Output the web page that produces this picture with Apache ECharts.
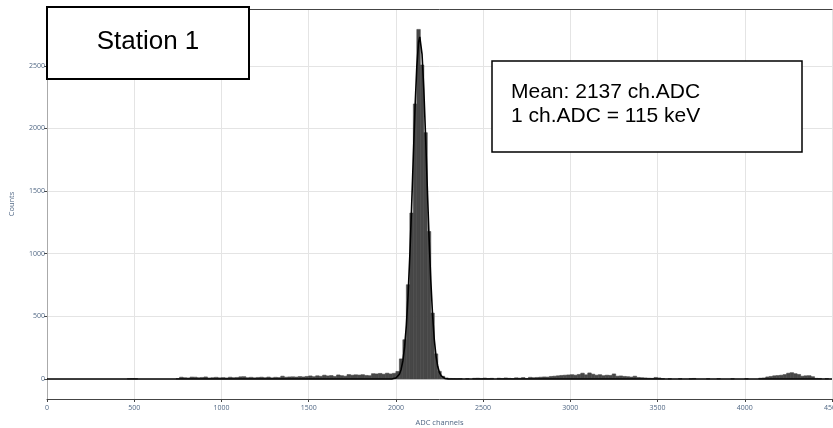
<!DOCTYPE html>
<html>
<head>
<meta charset="utf-8">
<script src="https://cdn.jsdelivr.net/npm/echarts@6/dist/echarts.min.js"></script>
<style>html,body{margin:0;padding:0;background:#fff;}#c{width:833px;height:428px;}</style>
</head>
<body>
<div id="c"></div>
<script>
// Histogram: bins of 20 ADC channels starting at 0 (225 bins, 0..4500)
const binWidth = 20;
const counts = [
  0,0,0,0,0,0,0,0,0,0,
  0,0,0,0,0,0,0,0,0,0,
  0,0,0,2,3,2,0,0,0,0,
  0,0,0,0,0,0,0,3,14,10,
  8,15,14,10,12,16,8,10,13,9,
  11,8,14,10,12,17,18,10,13,9,
  12,14,10,15,9,13,11,22,14,16,
  17,15,19,16,20,24,18,25,21,30,
  24,27,20,32,26,22,35,30,33,31,
  34,28,26,42,40,44,38,46,40,45,
  60,160,313,752,1324,2195,2790,2506,1966,1177,
  526,200,61,21,8,4,3,2,3,0,
  3,0,5,6,4,7,3,5,0,6,
  4,8,5,3,9,6,11,4,13,10,
  12,14,16,15,20,22,25,28,30,32,
  34,30,36,46,33,48,38,30,34,26,
  30,28,40,22,24,20,18,15,22,12,
  10,8,6,5,12,8,3,0,2,0,
  0,3,0,0,2,4,0,0,0,2,
  0,0,3,0,0,0,2,0,0,0,
  3,0,0,0,6,8,16,20,25,27,
  30,35,46,50,42,36,22,25,26,18,
  5,4,0,3,0
];
const fitX = [0, 1900, 1980, 1990, 2000, 2010, 2020, 2030, 2040, 2050, 2060, 2070, 2080, 2090, 2100, 2110, 2120, 2130, 2137, 2140, 2150, 2160, 2170, 2180, 2190, 2200, 2210, 2220, 2230, 2240, 2250, 2260, 2270, 2280, 2300, 2400, 4500];
const fitY = [0, 0, 1, 3, 8, 18, 38, 76, 144, 256, 429, 671, 989, 1369, 1780, 2174, 2495, 2688, 2730, 2722, 2590, 2315, 1943, 1532, 1135, 789, 516, 317, 183, 99, 50, 24, 11, 4, 1, 0, 0];
const xTicks = [0, 500, 1000, 1500, 2000, 2500, 3000, 3500, 4000, 4500];
const yTicks = [0, 500, 1000, 1500, 2000, 2500];
const stationLabel = 'Station 1';
const infoLines = ['Mean: 2137 ch.ADC', '1 ch.ADC = 115 keV'];

const histData = [];
counts.forEach((c, i) => { if (c > 0) histData.push([i * binWidth, (i + 1) * binWidth, c]); });
const fitData = fitX.map((x, i) => [x, fitY[i]]);

const chart = echarts.init(document.getElementById('c'), null, {renderer: 'canvas', width: 833, height: 428});
const tickColor = '#506784';
const barColor = '#474747';
chart.setOption({
  animation: false,
  backgroundColor: '#ffffff',
  grid: {left: 47, right: 1, top: 9, bottom: 29, containLabel: false, outerBoundsMode: 'none'},
  xAxis: [{
    type: 'value', min: xTicks[0], max: xTicks[xTicks.length - 1], interval: 500,
    name: 'ADC channels', nameLocation: 'middle', nameGap: 20,
    nameTextStyle: {color: tickColor, fontFamily: 'Open Sans', fontSize: 7.5},
    axisLine: {show: true, onZero: false, lineStyle: {color: '#444', width: 1}},
    axisTick: {show: true, length: 3, lineStyle: {color: '#444'}},
    axisLabel: {color: tickColor, fontFamily: 'Open Sans', fontSize: 7, margin: 5, showMaxLabel: true,
      formatter: v => String(v)},
    splitLine: {show: true, lineStyle: {color: '#e4e4e4', width: 1}}
  }, {
    type: 'value', position: 'top', min: xTicks[0], max: xTicks[xTicks.length - 1],
    axisLine: {show: true, onZero: false, lineStyle: {color: '#444', width: 1}},
    axisTick: {show: false}, axisLabel: {show: false}, splitLine: {show: false}
  }],
  yAxis: {
    type: 'value', min: -160, max: 2953,
    name: 'Counts', nameLocation: 'middle', nameGap: 31, nameRotate: 90,
    nameTextStyle: {color: tickColor, fontFamily: 'Open Sans', fontSize: 7.5},
    axisLine: {show: true, onZero: false, lineStyle: {color: '#aaaaaa', width: 1}},
    axisTick: {show: true, length: 3, lineStyle: {color: '#444'}},
    axisLabel: {color: tickColor, fontFamily: 'Open Sans', fontSize: 7, margin: 2,
      showMinLabel: false, showMaxLabel: false,
      formatter: v => (yTicks.indexOf(v) >= 0 ? String(v) : '')},
    splitLine: {show: true, lineStyle: {color: '#e4e4e4', width: 1}}
  },
  series: [{
    type: 'custom',
    xAxisIndex: 0,
    data: histData,
    encode: {x: [0, 1], y: 2},
    clip: true,
    renderItem: function (params, api) {
      const p0 = api.coord([api.value(0), api.value(2)]);
      const p1 = api.coord([api.value(1), 0]);
      return {type: 'rect', shape: {x: p0[0], y: p0[1], width: p1[0] - p0[0], height: p1[1] - p0[1]},
        style: {fill: barColor, stroke: barColor, lineWidth: 0.6}};
    },
    z: 2
  }, {
    type: 'line',
    xAxisIndex: 0,
    data: fitData,
    showSymbol: false,
    smooth: false,
    lineStyle: {color: '#000000', width: 1.6},
    z: 3
  }],
  graphic: [{
    type: 'rect', z: 100,
    shape: {x: 47, y: 7, width: 202, height: 72},
    style: {fill: '#ffffff', stroke: '#000000', lineWidth: 2}
  }, {
    type: 'text', z: 101, x: 148, y: 42,
    style: {text: stationLabel, font: '26px "Liberation Sans", Arial, sans-serif', fill: '#000', align: 'center', verticalAlign: 'middle'}
  }, {
    type: 'rect', z: 100,
    shape: {x: 492, y: 61, width: 310, height: 91},
    style: {fill: '#ffffff', stroke: '#000000', lineWidth: 1.5}
  }, {
    type: 'text', z: 101, x: 511, y: 104,
    style: {text: infoLines.join('\n'), font: '21px "Liberation Sans", Arial, sans-serif', lineHeight: 24, fill: '#000', align: 'left', verticalAlign: 'middle'}
  }]
});
</script>
</body>
</html>
